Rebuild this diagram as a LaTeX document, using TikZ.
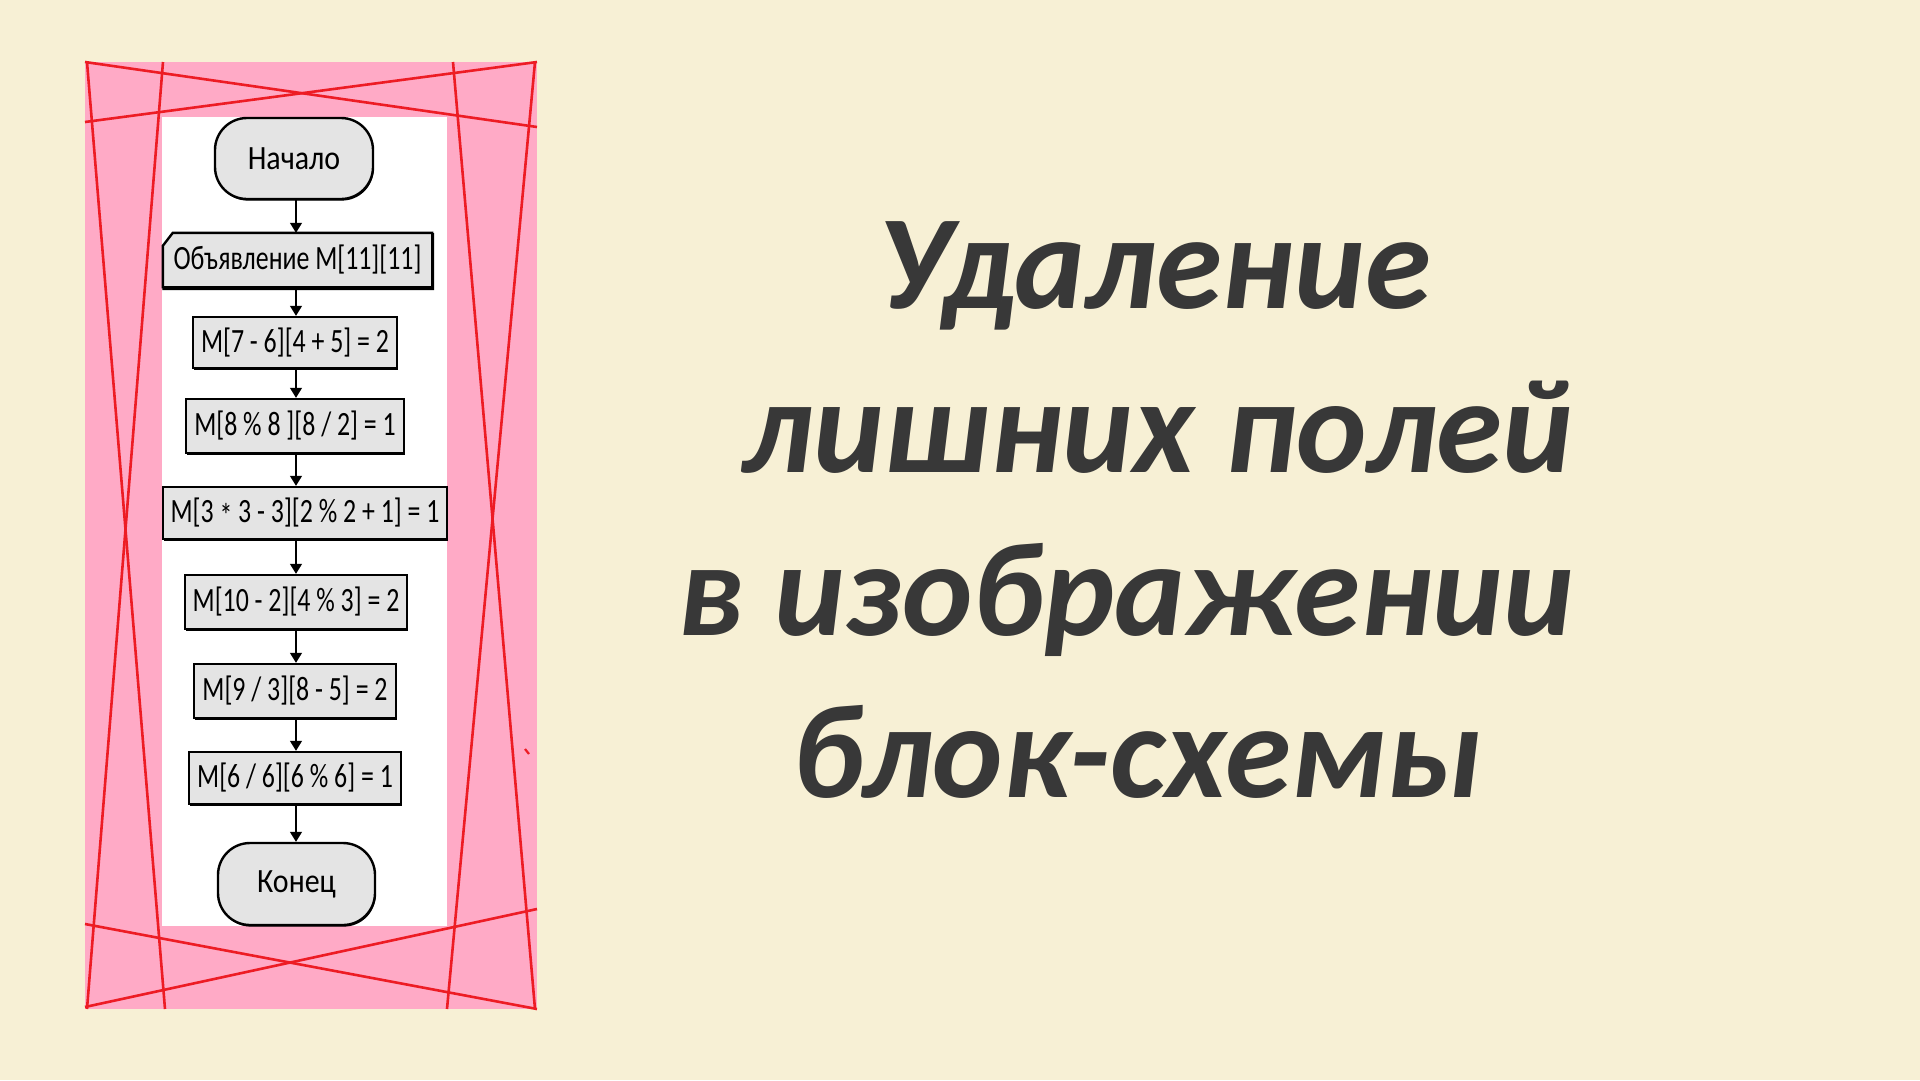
\documentclass[tikz,border=0pt]{standalone}
\usepackage{fontspec}
\setmainfont{Carlito}
\newfontfamily\boxfont[FakeStretch=0.76]{Carlito}
\newfontfamily\termfont[FakeStretch=0.88]{Carlito}
\usetikzlibrary{arrows.meta,shadows,calc}
\pgfdeclarelayer{bg}
\pgfsetlayers{bg,main}
\definecolor{bgbeige}{RGB}{247,240,213}
\definecolor{framepink}{RGB}{255,170,198}
\definecolor{cropred}{RGB}{237,28,36}
\definecolor{boxgray}{RGB}{228,228,228}
\definecolor{titlegray}{RGB}{56,56,56}
\tikzset{
  boxtext/.style={inner sep=0pt, font=\boxfont\fontsize{34}{40}\selectfont, text=black},
  blk/.style={boxtext, draw=black, line width=2.4pt, fill=boxgray,
    general shadow={fill=black, shadow xshift=0.8pt, shadow yshift=-1.6pt}},
  procbox/.style={blk, rectangle},
  termbox/.style={blk, rectangle, rounded corners=32pt, font=\termfont\fontsize{34}{40}\selectfont},
  declbox/.style={boxtext, rectangle},
  arr/.style={line width=1.3pt, -{Triangle[width=12pt,length=10pt]}},
  cropline/.style={cropred, line width=2.6pt},
  titletext/.style={font=\bfseries\itshape\fontsize{134}{160}\selectfont, text=titlegray, anchor=base, inner sep=0pt},
}
\begin{document}
\begin{tikzpicture}[x=1pt,y=-1pt]
\useasboundingbox (0,0) rectangle (1920,1080);
\begin{pgfonlayer}{bg}
\fill[bgbeige] (0,0) rectangle (1920,1080);
% frame
\fill[framepink] (85,62) rectangle (537,1009);
\fill[white] (162,117) rectangle (447,926);
% crop marks
\draw[cropline] (85,62) -- (537,127);
\draw[cropline] (85,122) -- (537,62);
\draw[cropline] (87,62) -- (165,1009);
\draw[cropline] (163,62) -- (87,1009);
\draw[cropline] (453,62) -- (535,1009);
\draw[cropline] (535,62) -- (447,1009);
\draw[cropline] (85,924) -- (537,1009);
\draw[cropline] (85,1007) -- (537,909);
\draw[cropred, line width=2.2pt] (525,749) -- (529,754);
\end{pgfonlayer}
% flowchart
\coordinate (ax) at (296,0);
\node[termbox, minimum width=158pt, minimum height=81pt] (start) at (294,158.5) {Начало};
\node[declbox, minimum width=269pt, minimum height=54pt] (decl) at (297.5,260) {Объявление M[11][11]};
\begin{pgfonlayer}{bg}
\begin{scope}[transform canvas={shift={(0.8pt,-1.6pt)}}]
\filldraw[black, line width=2.4pt] ($(decl.north west)+(10,0)$) -- (decl.north east) -- (decl.south east) -- (decl.south west) -- ($(decl.north west)+(0,13)$) -- cycle;
\end{scope}
\filldraw[draw=black, fill=boxgray, line width=2.4pt] ($(decl.north west)+(10,0)$) -- (decl.north east) -- (decl.south east) -- (decl.south west) -- ($(decl.north west)+(0,13)$) -- cycle;
\end{pgfonlayer}
\node[procbox, minimum width=204pt, minimum height=51pt] (b1) at (295,342.5) {M[7 - 6][4 + 5] = 2};
\node[procbox, minimum width=218pt, minimum height=54pt] (b2) at (295,426) {M[8 \% 8 ][8 / 2] = 1};
\node[procbox, minimum width=284pt, minimum height=52pt] (b3) at (305,513) {M[3 \raisebox{-0.3ex}{*} 3 - 3][2 \% 2 + 1] = 1};
\node[procbox, minimum width=222pt, minimum height=54pt] (b4) at (296,602) {M[10 - 2][4 \% 3] = 2};
\node[procbox, minimum width=202pt, minimum height=54pt] (b5) at (295,691) {M[9 / 3][8 - 5] = 2};
\node[procbox, minimum width=212pt, minimum height=52pt] (b6) at (295,778) {M[6 / 6][6 \% 6] = 1};
\node[termbox, minimum width=157pt, minimum height=82pt] (stop) at (296.5,884) {Конец};
\draw[arr] (start.south -| ax) -- (decl.north -| ax);
\draw[arr] (decl.south -| ax) -- (b1.north -| ax);
\draw[arr] (b1.south -| ax) -- (b2.north -| ax);
\draw[arr] (b2.south -| ax) -- (b3.north -| ax);
\draw[arr] (b3.south -| ax) -- (b4.north -| ax);
\draw[arr] (b4.south -| ax) -- (b5.north -| ax);
\draw[arr] (b5.south -| ax) -- (b6.north -| ax);
\draw[arr] (b6.south -| ax) -- (stop.north -| ax);
% title
\node[titletext] (t1) at (1154,308) {Удаление};
\node[titletext] (t2) at (1158,472) {лишних полей};
\node[titletext] (t3) at (1126,635) {в изображении};
\node[titletext] (t4) at (1137,797) {блок-схемы};
\end{tikzpicture}
\end{document}
